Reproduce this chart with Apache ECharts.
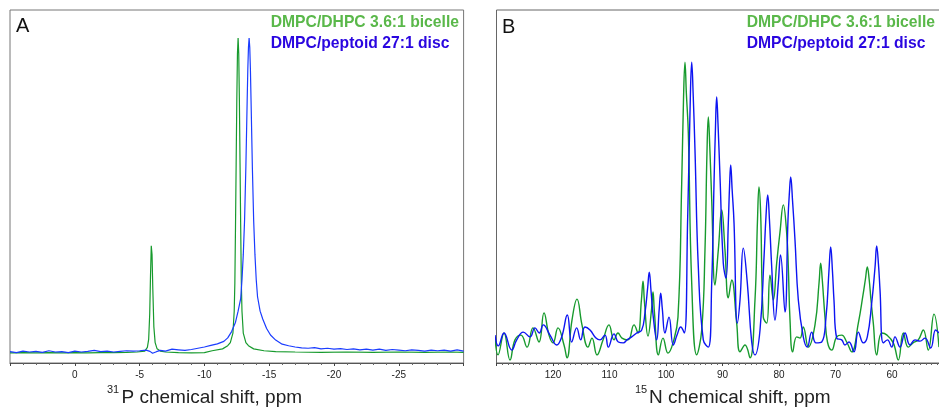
<!DOCTYPE html>
<html><head><meta charset="utf-8">
<script src="https://cdn.jsdelivr.net/npm/echarts@6/dist/echarts.min.js"></script>
<style>html,body{margin:0;padding:0;background:#fff}#c{width:939px;height:408px}</style>
</head><body><div id="c"></div>
<script>
// Panel A: 31P spectra [ppm, intensity]
const p31Bicelle = [[5,-0.3],[4,-0.2],[3,-0.3],[2,-0.2],[1,-0.3],[0,-0.2],[-1,-0.3],[-2,-0.2],[-3,-0.2],[-4,-0.1],[-4.8,0],
 [-5.4,0.3],[-5.6,1.5],[-5.7,4],[-5.78,12],[-5.84,24],[-5.9,33.8],[-5.96,31],[-6.02,20],[-6.1,8],[-6.2,3],[-6.35,1],[-6.6,0.3],
 [-7,0],[-8,-0.2],[-9,-0.3],[-10,-0.2],[-10.6,0.4],[-11.4,1],[-11.8,2],[-12.0,3],[-12.2,6],[-12.3,13],[-12.35,22],[-12.4,40],
 [-12.45,60],[-12.5,80],[-12.55,95],[-12.6,100],[-12.65,95],[-12.7,80],[-12.75,60],[-12.8,40],[-12.85,22],[-12.9,13],[-13.0,6],
 [-13.2,3],[-13.4,2],[-13.8,1],[-14.6,0.4],[-15.5,0.1],[-17,0],[-19,-0.1],[-21,0],[-23,-0.1],[-25,0],[-27,-0.1],[-29,0],[-30,-0.1]];
const p31Disc = [[5,0.1],[4.5,-0.2],[4,0.3],[3.5,0],[3,0.2],[2.5,-0.1],[2,0.4],[1.5,0],[1,0.1],[0.5,-0.2],[0,0.3],[-0.5,0],
 [-1,0.2],[-1.5,0.5],[-2,0.1],[-2.5,0.3],[-3,0],[-3.5,0.2],[-4,0.4],[-4.5,0.3],[-5,0.4],[-5.5,0.6],[-5.8,0.2],[-6,-0.4],
 [-6.3,0.1],[-6.6,0.5],[-7,0.3],[-7.5,0.9],[-8,0.7],[-8.5,0.5],[-9,0.8],[-9.5,1.2],[-10,1.6],[-10.5,2.1],[-11,2.6],[-11.5,3.4],
 [-11.8,4.5],[-12.1,6.5],[-12.4,9.5],[-12.6,13],[-12.8,17],[-12.9,23],[-13.0,31],[-13.1,42],[-13.2,59],[-13.3,80],[-13.35,90],
 [-13.4,97],[-13.45,100],[-13.5,97],[-13.55,90],[-13.6,80],[-13.7,59],[-13.8,42],[-13.9,31],[-14.0,23],[-14.1,17.6],[-14.3,13],
 [-14.5,10.5],[-14.8,7.5],[-15.1,5.4],[-15.5,3.8],[-16,2.5],[-16.5,2.0],[-17,1.6],[-17.5,1.3],[-18,1.2],[-18.5,1.4],[-19,1.0],
 [-19.5,1.2],[-20,0.9],[-20.5,1.1],[-21,0.8],[-21.5,1.0],[-22,0.7],[-22.5,0.9],[-23,0.6],[-23.5,0.9],[-24,0.5],[-24.5,0.8],
 [-25,0.6],[-25.5,0.4],[-26,0.7],[-26.5,0.5],[-27,0.3],[-27.5,0.6],[-28,0.4],[-28.5,0.6],[-29,0.3],[-29.5,0.7],[-30,0.3]];
// Panel B: 15N spectra [ppm, intensity]
const n15Bicelle = [[130.27,8.7],[129.73,2.7],[128.67,10],[127.61,1],[126.73,7.7],[125.66,9.3],[124.6,5.3],[123.54,11.7],[122.48,7],
 [121.59,16.7],[120.71,9.3],[120.0,6.7],[119.12,11.7],[118.05,6],[117.52,1.7],[116.64,14.3],[115.75,21.3],[114.87,12.7],[113.81,5.3],
 [113.1,8.3],[112.21,2.7],[111.15,7.7],[110.09,12.7],[109.2,7.7],[108.5,10],[107.79,8.3],[106.73,7.7],[105.66,12.7],[104.96,10],
 [104.35,21],[104.07,27.3],[103.8,20],[103.19,9],[102.55,18],[102.3,23.7],[102.05,17],[101.33,2.7],[100.53,8.3],[99.65,3.3],[98.76,6.7],
 [97.88,15.3],[97.22,60],[96.9,88],[96.64,100.3],[96.4,90],
 [96.05,76.7],[95.45,26.7],[94.57,2.7],[93.68,11],[93.1,37.7],[92.75,70],[92.51,82],[92.25,72],[91.91,54.3],[91.33,26],[90.74,37.7],[90.14,51],[89.56,37.7],
 [88.97,21.7],[88.37,27.7],[87.49,13.3],[86.9,3.7],[86.02,6],[85.13,1.7],[84.25,21],[83.8,48],[83.54,58.7],[83.25,50],[82.78,15.3],[82.18,13.3],[81.59,29.3],
 [81.01,21],[80.41,33.3],[79.82,43.7],[79.24,52.7],[78.64,43.3],[78.35,32],[78.05,14.3],[77.58,3.7],[76.87,8.7],[76.28,8.3],[75.7,12],
 [74.81,5.3],[73.63,12.7],[72.9,27],[72.62,33.3],[72.35,28],[71.86,15.3],[71.42,7],[70.67,4.3],[69.79,8.7],[68.9,9.3],[68.02,7],[67.13,3.7],[65.96,13.3],
 [65.13,22.7],[64.7,28],[64.37,32],[64.05,28],[63.72,21],[63.31,13.3],[62.71,2.7],[61.82,10],[60.88,9.3],[59.77,6.7],[58.88,1],[58.0,10],[57.12,5.3],
 [56.28,6.7],[55.35,7.7],[54.46,11],[53.58,4.3],[52.57,16.3],[51.68,5.3]];
const n15Disc = [[130.27,9.3],[129.68,5.7],[128.67,10],[127.31,4.3],[126.42,7.7],[125.26,10.3],[124.07,8.7],[123.19,11.7],[122.42,10],
 [121.72,12.7],[120.53,9.3],[119.35,6],[118.46,8.7],[117.47,16],[116.69,7],[115.81,11.7],[115.1,7.7],[114.34,12],[113.45,11],
 [112.39,8.3],[111.68,7.7],[110.8,9.3],[110.21,5.3],[109.2,9.7],[108.44,7],[107.56,6.7],[106.9,7.7],[106.07,8.7],[105.19,10],
 [104.3,11],[103.72,16.7],[103.25,25],[102.96,30.3],[102.65,24],[102.25,15.3],[101.65,7.7],[101.2,18],[100.94,23.3],[100.65,18],[100.18,10],[99.47,15.3],[98.71,6],[98.05,9.3],
 [97.4,12],[96.76,10],[96.16,48.7],[95.7,88],[95.45,100.3],[95.2,90],[94.87,71],[94.28,32],[93.4,7.7],[92.51,5.3],[91.91,26.7],[91.5,60],[91.25,78],[91.03,88.7],[90.8,80],
 [90.44,62],[89.86,33.3],[89.38,28.3],[88.97,46.7],[88.75,59],[88.55,66],[88.3,58],[87.96,46.7],[87.38,13.3],[86.9,21],[86.32,38.3],[85.61,26.7],
 [84.83,7],[84.25,2.7],[83.36,11],[82.65,35.3],[82.3,49],[82.0,56],[81.7,48],[81.29,32],[80.71,14.3],[80.12,26.7],[79.73,36],[78.94,17],[78.41,47.7],
 [78.15,57],[77.93,62],[77.6,54],[77.17,41],[76.58,21],[75.7,8.7],[74.99,5.3],[74.21,10.3],[73.45,6.7],[72.44,7],[71.68,15.3],[71.15,31],[70.85,38.7],[70.55,31],[70.27,21],
 [69.79,8.3],[68.9,7.7],[68.32,6],[67.61,7],[66.73,3.7],[65.96,10.3],[65.08,6.7],[64.37,8.7],[63.59,20],[63.0,32],[62.71,39],[62.4,33],[62.12,24.3],
 [61.54,6.7],[60.8,7.7],[60.05,5.3],[59.47,8.7],[58.58,5.3],[57.7,10],[56.81,6],[55.93,7.7],[55.04,7.3],[54.16,8.3],[53.15,5],
 [52.27,11],[51.68,10]];
const legendBicelle = 'DMPC/DHPC 3.6:1 bicelle';
const legendDisc = 'DMPC/peptoid 27:1 disc';

const FF = '"Liberation Sans", Arial, Helvetica, sans-serif';
const cGreenLine = '#179a2d', cBlueLine = '#1a3cff', cBlueLineB = '#0d14f2';
const cGreenText = '#5ab84a', cBlueText = '#2a06e0';

function xAx(idx, min, max, interval, split) {
  return {
    type: 'value', gridIndex: idx, min: min, max: max, interval: interval, inverse: true,
    axisLine: { show: true, onZero: false, lineStyle: { color: '#555', width: 1 } },
    axisTick: { show: true, inside: false, length: 3, lineStyle: { color: '#444' } },
    minorTick: { show: true, splitNumber: split, length: 2, lineStyle: { color: '#666' } },
    splitLine: { show: false }, minorSplitLine: { show: false },
    axisLabel: { show: true, fontSize: 10, color: '#222', fontFamily: FF, margin: 7, showMinLabel: false, showMaxLabel: false }
  };
}
function yAx(idx, min, max) {
  return { type: 'value', gridIndex: idx, min: min, max: max, show: false, splitLine: { show: false } };
}
function txt(x, y, text, size, color, weight, align) {
  return { type: 'text', x: x, y: y, silent: true,
    style: { text: text, font: (weight || 'normal') + ' ' + size + 'px ' + FF, fill: color, textAlign: align || 'left', textVerticalAlign: 'middle' } };
}

const chart = echarts.init(document.getElementById('c'), null, { renderer: 'canvas' });
chart.setOption({
  backgroundColor: '#fff',
  animation: false,
  grid: [
    { left: 10, top: 10, width: 453.6, height: 353, show: true, borderColor: '#777', borderWidth: 1, backgroundColor: 'transparent', outerBoundsMode: 'none', containLabel: false },
    { left: 496.5, top: 10, width: 452, height: 353, show: true, borderColor: '#666', borderWidth: 1, backgroundColor: 'transparent', outerBoundsMode: 'none', containLabel: false }
  ],
  xAxis: [ xAx(0, -30, 5, 5, 5), xAx(1, 50, 130, 10, 10) ],
  yAxis: [ yAx(0, -3.5, 108.9), yAx(1, 0, 117.67) ],
  series: [
    { type: 'line', xAxisIndex: 0, yAxisIndex: 0, data: p31Bicelle, showSymbol: false, lineStyle: { color: cGreenLine, width: 1.2 }, z: 2 },
    { type: 'line', xAxisIndex: 0, yAxisIndex: 0, data: p31Disc, showSymbol: false, lineStyle: { color: cBlueLine, width: 1.2 }, z: 3 },
    { type: 'line', xAxisIndex: 1, yAxisIndex: 1, data: n15Bicelle, showSymbol: false, smooth: 0.45, lineStyle: { color: cGreenLine, width: 1.4 }, z: 2 },
    { type: 'line', xAxisIndex: 1, yAxisIndex: 1, data: n15Disc, showSymbol: false, smooth: 0.45, lineStyle: { color: cBlueLineB, width: 1.4 }, z: 3 }
  ],
  graphic: [
    txt(16, 26, 'A', 20, '#111'),
    txt(502, 27, 'B', 20, '#111'),
    txt(270.7, 22.5, legendBicelle, 15.7, cGreenText, 'bold'),
    txt(270.7, 44, legendDisc, 15.7, cBlueText, 'bold'),
    txt(746.7, 22.5, legendBicelle, 15.7, cGreenText, 'bold'),
    txt(746.7, 44, legendDisc, 15.7, cBlueText, 'bold'),
    txt(107, 390, '31', 11, '#222'),
    txt(121.5, 398, 'P chemical shift, ppm', 19, '#222'),
    txt(635, 390, '15', 11, '#222'),
    txt(649, 398, 'N chemical shift, ppm', 19, '#222')
  ]
});
</script></body></html>
